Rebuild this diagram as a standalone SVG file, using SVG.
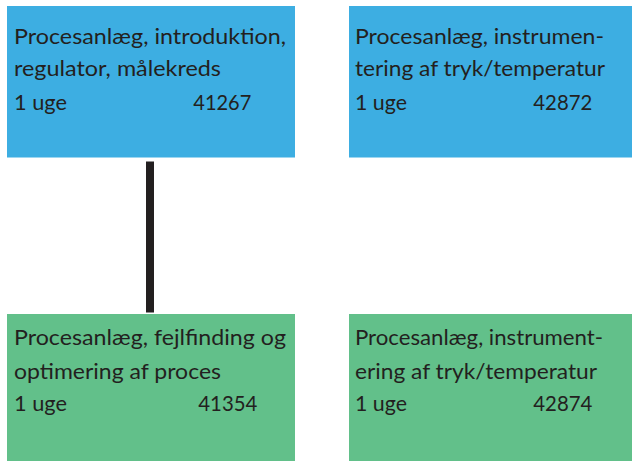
<svg xmlns="http://www.w3.org/2000/svg" width="632" height="461" viewBox="0 0 632 461">
<style>
.blue{fill:#3daee2}
.green{fill:#62c08a}
text{font-family:Lato,"Liberation Sans",sans-serif;font-size:22px;fill:#231f20}
.conn{stroke:#231f20;stroke-width:8;fill:none}
</style>
<rect width="632" height="461" fill="#ffffff"/>
<g id="connectors">
<line class="conn" x1="150" y1="161.5" x2="150" y2="312.5"/>
</g>
<g id="node-41267">
<rect class="blue" x="7" y="6" width="288" height="151.5"/>
<text x="14" y="43.5" textLength="272" lengthAdjust="spacingAndGlyphs">Procesanlæg, introduktion,</text>
<text x="14" y="76" textLength="207" lengthAdjust="spacingAndGlyphs">regulator, målekreds</text>
<text x="14" y="110" textLength="53" lengthAdjust="spacingAndGlyphs">1 uge</text>
<text x="193.3" y="110" textLength="58" lengthAdjust="spacingAndGlyphs">41267</text>
</g>
<g id="node-42872">
<rect class="blue" x="349" y="6" width="283" height="151.5"/>
<text x="355" y="43.5" textLength="249" lengthAdjust="spacingAndGlyphs">Procesanlæg, instrumen-</text>
<text x="355" y="76" textLength="250" lengthAdjust="spacingAndGlyphs">tering af tryk/temperatur</text>
<text x="355" y="110" textLength="52" lengthAdjust="spacingAndGlyphs">1 uge</text>
<text x="533.3" y="110" textLength="59" lengthAdjust="spacingAndGlyphs">42872</text>
</g>
<g id="node-41354">
<rect class="green" x="7" y="314" width="288" height="147"/>
<text x="14" y="345" textLength="272" lengthAdjust="spacingAndGlyphs">Procesanlæg, fejlfinding og</text>
<text x="14" y="379" textLength="207" lengthAdjust="spacingAndGlyphs">optimering af proces</text>
<text x="14" y="411" textLength="53" lengthAdjust="spacingAndGlyphs">1 uge</text>
<text x="198.3" y="411" textLength="59" lengthAdjust="spacingAndGlyphs">41354</text>
</g>
<g id="node-42874">
<rect class="green" x="349" y="314" width="283" height="147"/>
<text x="355" y="345" textLength="248" lengthAdjust="spacingAndGlyphs">Procesanlæg, instrument-</text>
<text x="355" y="379" textLength="242" lengthAdjust="spacingAndGlyphs">ering af tryk/temperatur</text>
<text x="355" y="411" textLength="52" lengthAdjust="spacingAndGlyphs">1 uge</text>
<text x="533.3" y="411" textLength="59" lengthAdjust="spacingAndGlyphs">42874</text>
</g>
</svg>
